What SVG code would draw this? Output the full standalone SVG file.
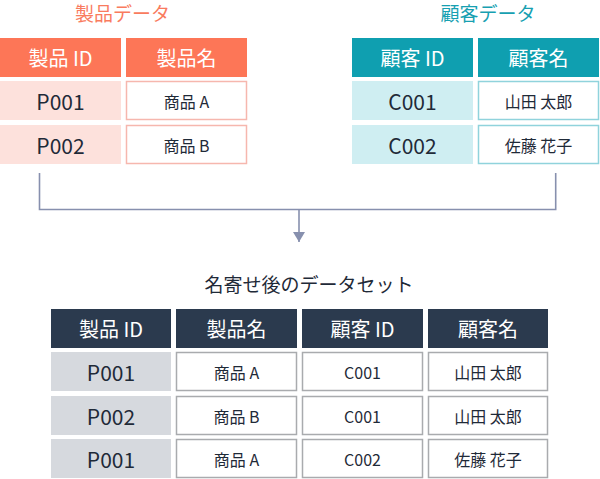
<svg xmlns="http://www.w3.org/2000/svg" width="600" height="479" viewBox="0 0 600 479">
<defs>
<style>
text{font-family:"Noto Sans CJK JP","Open Sans",sans-serif;text-anchor:middle;dominant-baseline:central}
.ph{fill:#fd7657}
.pid{fill:#fde1dc}
.pnm{fill:#fff;stroke:#f6b7ae;stroke-width:1.5}
.ch{fill:#0f9fb0}
.cid{fill:#cfeef2}
.cnm{fill:#fff;stroke:#90d3dc;stroke-width:1.5}
.bh{fill:#2b3a4e}
.bid{fill:#d6d9de}
.bnm{fill:#fff;stroke:#a9abae;stroke-width:1.5}
.ht{fill:#fff;font-size:20px}
.big{fill:#1f2a38;font-size:21px}
.sm{fill:#1f2a38;font-size:16px}
.conn{fill:none;stroke:#8790ae;stroke-width:1.6}
</style>
<marker id="arr" viewBox="0 0 10 12" refX="10" refY="6" markerWidth="10" markerHeight="12" markerUnits="userSpaceOnUse" orient="auto">
<path d="M0,0 L10,6 L0,12 Z" fill="#8790ae"/>
</marker>
</defs>
<g id="product-table">
<text x="122.5" y="12" font-size="19" fill="#f97b5e">製品データ</text>
<rect class="ph" x="0" y="38" width="121" height="39"/>
<rect class="ph" x="126" y="38" width="121" height="39"/>
<text class="ht" x="60.5" y="57.5">製品 ID</text>
<text class="ht" x="186.5" y="57.5">製品名</text>
<rect class="pid" x="0" y="81" width="121" height="39"/>
<rect class="pnm" x="126.5" y="81.5" width="120" height="38"/>
<text class="big" x="60.5" y="100.5">P001</text>
<text class="sm" x="186.5" y="100.5">商品 A</text>
<rect class="pid" x="0" y="125" width="121" height="39"/>
<rect class="pnm" x="126.5" y="125.5" width="120" height="38"/>
<text class="big" x="60.5" y="144.5">P002</text>
<text class="sm" x="186.5" y="144.5">商品 B</text>
</g>
<g id="customer-table">
<text x="488" y="12" font-size="19" fill="#17a0b1">顧客データ</text>
<rect class="ch" x="352" y="38" width="121" height="39"/>
<rect class="ch" x="478" y="38" width="121" height="39"/>
<text class="ht" x="412.5" y="57.5">顧客 ID</text>
<text class="ht" x="538.5" y="57.5">顧客名</text>
<rect class="cid" x="352" y="81" width="121" height="39"/>
<rect class="cnm" x="478.5" y="81.5" width="120" height="38"/>
<text class="big" x="412.5" y="100.5">C001</text>
<text class="sm" x="538.5" y="100.5">山田 太郎</text>
<rect class="cid" x="352" y="125" width="121" height="39"/>
<rect class="cnm" x="478.5" y="125.5" width="120" height="38"/>
<text class="big" x="412.5" y="144.5">C002</text>
<text class="sm" x="538.5" y="144.5">佐藤 花子</text>
</g>
<g id="connectors">
<path class="conn" d="M39.5,173 V209.5 H555.7 V173"/>
<path class="conn" d="M299,209.5 V242" marker-end="url(#arr)"/>
</g>
<g id="merged-table">
<text x="309" y="283" font-size="19" fill="#1f2a38">名寄せ後のデータセット</text>
<rect class="bh" x="51" y="309" width="120" height="39"/>
<rect class="bh" x="176" y="309" width="121" height="39"/>
<rect class="bh" x="302" y="309" width="121" height="39"/>
<rect class="bh" x="428" y="309" width="120" height="39"/>
<text class="ht" x="111" y="328.5">製品 ID</text>
<text class="ht" x="236.5" y="328.5">製品名</text>
<text class="ht" x="362.5" y="328.5">顧客 ID</text>
<text class="ht" x="488" y="328.5">顧客名</text>
<rect class="bid" x="51" y="352" width="120" height="39"/>
<rect class="bnm" x="176.5" y="352.5" width="120" height="38"/>
<rect class="bnm" x="302.5" y="352.5" width="120" height="38"/>
<rect class="bnm" x="428.5" y="352.5" width="119" height="38"/>
<text class="big" x="111" y="371.5">P001</text>
<text class="sm" x="236.5" y="371.5">商品 A</text>
<text class="sm" x="362.5" y="371.5">C001</text>
<text class="sm" x="488" y="371.5">山田 太郎</text>
<rect class="bid" x="51" y="396" width="120" height="39"/>
<rect class="bnm" x="176.5" y="396.5" width="120" height="38"/>
<rect class="bnm" x="302.5" y="396.5" width="120" height="38"/>
<rect class="bnm" x="428.5" y="396.5" width="119" height="38"/>
<text class="big" x="111" y="415.5">P002</text>
<text class="sm" x="236.5" y="415.5">商品 B</text>
<text class="sm" x="362.5" y="415.5">C001</text>
<text class="sm" x="488" y="415.5">山田 太郎</text>
<rect class="bid" x="51" y="439" width="120" height="39"/>
<rect class="bnm" x="176.5" y="439.5" width="120" height="38"/>
<rect class="bnm" x="302.5" y="439.5" width="120" height="38"/>
<rect class="bnm" x="428.5" y="439.5" width="119" height="38"/>
<text class="big" x="111" y="458.5">P001</text>
<text class="sm" x="236.5" y="458.5">商品 A</text>
<text class="sm" x="362.5" y="458.5">C002</text>
<text class="sm" x="488" y="458.5">佐藤 花子</text>
</g>
</svg>
